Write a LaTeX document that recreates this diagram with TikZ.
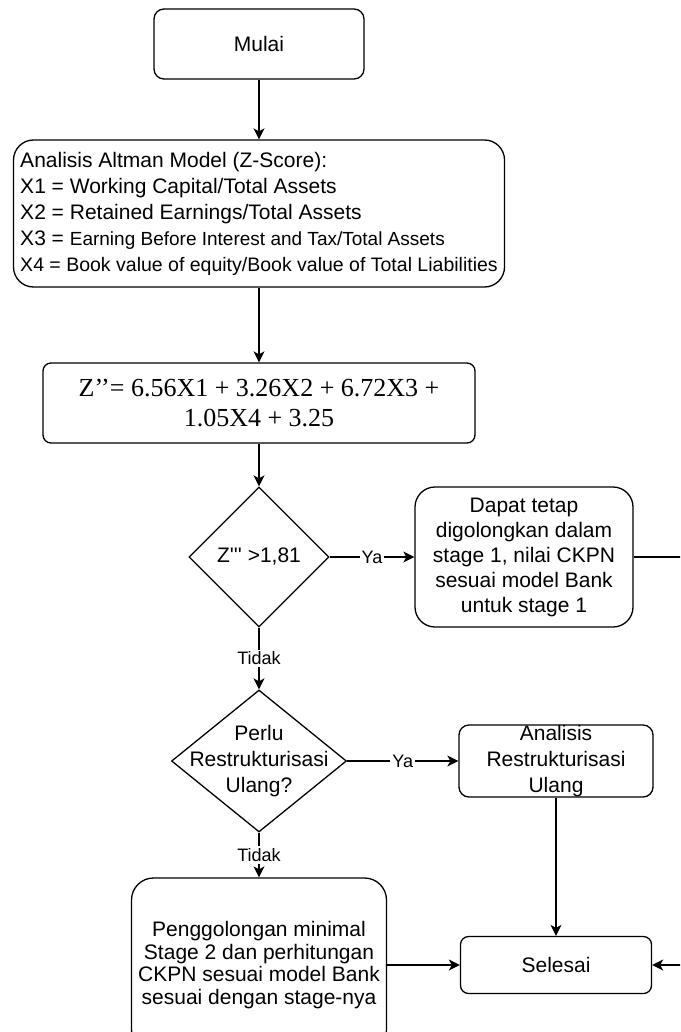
\documentclass[tikz,border=0pt]{standalone}
\usepackage{fontspec}
\newfontfamily\flowfont{Liberation Sans}
\newfontfamily\formulafont{Liberation Serif}
\usepackage{tikz}
\usetikzlibrary{arrows.meta}
\usetikzlibrary{shapes.geometric}
\tikzset{
process/.style = { rectangle, draw = black, fill = white, line width = 0.65pt, align = center, font = \flowfont\fontsize{10.5}{12.5}\selectfont },
decision/.style = { diamond, draw = black, fill = white, line width = 0.65pt, align = center, inner sep = -12pt, font = \flowfont\fontsize{10.5}{13}\selectfont },
flow/.style = { draw = black, line width = 0.65pt, -{Stealth[length = 5.5pt, width = 5.5pt, inset = 1.5pt]} },
answer/.style = { fill = white, inner sep = 1pt, font = \flowfont\fontsize{9}{10}\selectfont },
}

\begin{document}
\begin{tikzpicture}[x = 0.5pt, y = -0.5pt]
    \useasboundingbox (0, 0) rectangle (680, 1032);
    \clip (0, 0) rectangle (680, 1032);
    \node[process, minimum width = 105pt, minimum height = 35pt, rounded corners = 5pt] (mulai) at (259, 44) {Mulai};
    \node[process, align = left, minimum width = 245.5pt, minimum height = 73.5pt, rounded corners = 10pt, font = \flowfont\fontsize{10.5}{13}\selectfont] (altman) at (259, 213.5) {Analisis Altman Model (Z-Score):\\X1 = Working Capital/Total Assets\\X2 = Retained Earnings/Total Assets\\X3 = {\fontsize{9.5}{13}\selectfont Earning Before Interest and Tax/Total Assets}\\{\fontsize{9.75}{13}\selectfont X4 = Book value of equity/Book value of Total Liabilities}};
    \node[process, minimum width = 216pt, minimum height = 40pt, rounded corners = 4pt, font = \formulafont\fontsize{13}{15}\selectfont] (zscore) at (259, 403) {Z’’= 6.56X1 + 3.26X2 + 6.72X3 +\\1.05X4 + 3.25};
    \node[decision, minimum width = 70pt, minimum height = 70pt] (cek) at (259, 557) {Z''' >1,81};
    \node[process, minimum width = 109pt, minimum height = 70pt, rounded corners = 10pt] (tetap) at (524, 557) {Dapat tetap\\digolongkan dalam\\stage 1, nilai CKPN\\sesuai model Bank\\untuk stage 1};
    \node[decision, minimum width = 87.5pt, minimum height = 71pt] (perlu) at (259, 761) {Perlu\\Restrukturisasi\\Ulang?};
    \node[process, minimum width = 97pt, minimum height = 36pt, inner sep = 0pt, rounded corners = 5pt, font = \flowfont\fontsize{10.5}{13}\selectfont] (ulang) at (556, 761) {Analisis\\Restrukturisasi\\Ulang};
    \node[process, minimum width = 95.5pt, minimum height = 28.5pt, rounded corners = 4pt] (selesai) at (556, 965) {Selesai};
    \node[process, minimum width = 127.5pt, minimum height = 87pt, rounded corners = 11pt, font = \flowfont\fontsize{10.5}{11.25}\selectfont] (golong) at (259, 965) {Penggolongan minimal\\Stage 2 dan perhitungan\\CKPN sesuai model Bank\\sesuai dengan stage-nya};
    \draw[flow] (mulai) -- (altman);
    \draw[flow] (altman) -- (zscore);
    \draw[flow] (zscore) -- (cek);
    \draw[flow] (cek) -- node[answer] {Ya} (tetap);
    \draw[flow] (cek) -- node[answer] {Tidak} (perlu);
    \draw[flow] (perlu) -- node[answer] {Ya} (ulang);
    \draw[flow] (perlu) -- node[answer] {Tidak} (golong);
    \draw[flow] (ulang) -- (selesai);
    \draw[flow] (golong) -- (selesai);
    \draw[flow] (tetap.east) -- ++(60, 0) |- (selesai.east);
\end{tikzpicture}
\end{document}
